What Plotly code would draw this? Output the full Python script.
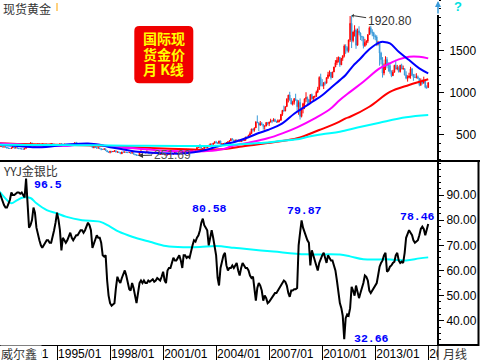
import pandas as pd
import plotly.graph_objects as go

# ---------------- data ----------------
start_month = "1991-10-01"
first_open = 355

# monthly gold (USD/oz): 1991/10 .. 2016/01
gold_close = [
    357.5, 366, 353,
    354, 353, 341, 337, 337, 343, 357, 340, 349, 339, 334, 333,
    330, 327, 338, 355, 377, 378, 401, 372, 355, 369, 370, 391,
    378, 381, 391, 376, 387, 386, 384, 386, 394, 389, 383, 383,
    375, 376, 392, 389, 384, 387, 383, 383, 383, 382, 387, 387,
    405, 400, 396, 392, 391, 382, 385, 386, 379, 379, 371, 369,
    345, 358, 348, 340, 345, 334, 326, 325, 332, 311, 296, 290,
    303, 297, 301, 310, 293, 296, 288, 273, 294, 292, 294, 288,
    287, 288, 280, 286, 268, 261, 255, 255, 299, 299, 292, 290,
    283, 293, 278, 276, 272, 288, 276, 278, 273, 264, 270, 274,
    266, 267, 258, 264, 267, 271, 266, 273, 293, 279, 275, 277,
    282, 297, 302, 308, 327, 318, 304, 313, 324, 317, 319, 347,
    368, 347, 334, 336, 361, 346, 354, 375, 388, 386, 398, 416,
    400, 397, 426, 388, 393, 395, 391, 407, 416, 428, 453, 438,
    422, 435, 428, 436, 417, 437, 430, 433, 473, 470, 495, 513,
    569, 556, 582, 654, 643, 614, 633, 624, 599, 604, 646, 632,
    650, 665, 662, 681, 656, 650, 666, 673, 743, 790, 783, 834,
    923, 972, 916, 865, 887, 928, 913, 833, 884, 718, 814, 870,
    928, 942, 917, 884, 978, 927, 954, 955, 1007, 1040, 1182, 1096,
    1083, 1118, 1113, 1180, 1213, 1244, 1181, 1247, 1307, 1357, 1386, 1421,
    1332, 1410, 1439, 1556, 1536, 1500, 1628, 1826, 1620, 1722, 1747, 1565,
    1737, 1711, 1669, 1664, 1560, 1598, 1614, 1692, 1773, 1719, 1714, 1675,
    1664, 1578, 1597, 1472, 1393, 1234, 1312, 1396, 1327, 1323, 1253, 1202,
    1244, 1326, 1284, 1296, 1250, 1327, 1282, 1287, 1211, 1172, 1182, 1199,
    1283, 1213, 1183, 1182, 1190, 1172, 1095, 1134, 1115, 1142, 1065, 1061,
    1118,
]
gold_high = [
    363, 369, 367,
    361, 361, 354, 345, 341, 345, 362, 358, 350, 349, 341, 338,
    333, 333, 339, 357, 379, 381, 410, 406, 373, 372, 375, 393,
    395, 387, 393, 391, 389, 392, 389, 389, 398, 396, 390, 384,
    384, 378, 393, 396, 390, 390, 389, 389, 386, 386, 389, 390,
    406, 415, 402, 397, 394, 392, 387, 389, 387, 384, 380, 372,
    370, 359, 362, 349, 348, 345, 334, 331, 335, 332, 311, 297,
    307, 304, 303, 314, 310, 297, 297, 289, 297, 302, 299, 296,
    292, 291, 289, 292, 289, 268, 262, 260, 304, 338, 301, 297,
    292, 316, 297, 283, 278, 293, 290, 280, 279, 273, 272, 275,
    274, 268, 269, 265, 273, 272, 271, 280, 295, 293, 283, 283,
    283, 303, 304, 310, 328, 330, 322, 315, 325, 325, 322, 350,
    371, 389, 353, 340, 368, 371, 357, 377, 396, 392, 399, 416,
    427, 412, 427, 428, 395, 401, 409, 411, 418, 430, 454, 456,
    440, 440, 445, 438, 436, 442, 438, 449, 474, 479, 498, 538,
    570, 572, 584, 656, 730, 645, 663, 651, 627, 608, 649, 648,
    654, 690, 673, 696, 691, 668, 683, 677, 745, 795, 846, 838,
    934, 975, 1011, 937, 905, 937, 988, 915, 910, 932, 823, 880,
    930, 1006, 955, 924, 980, 990, 960, 966, 1025, 1070, 1195, 1227,
    1162, 1126, 1136, 1180, 1249, 1265, 1245, 1248, 1308, 1388, 1424, 1432,
    1424, 1411, 1445, 1575, 1577, 1552, 1632, 1913, 1920.8, 1730, 1803, 1764,
    1764, 1791, 1718, 1678, 1668, 1641, 1625, 1693, 1789, 1796, 1755, 1726,
    1694, 1684, 1617, 1604, 1488, 1424, 1348, 1434, 1424, 1361, 1361, 1267,
    1272, 1332, 1392, 1331, 1315, 1332, 1345, 1323, 1290, 1255, 1208, 1238,
    1308, 1294, 1224, 1224, 1232, 1205, 1174, 1170, 1157, 1191, 1142, 1088,
    1128,
]
gold_low = [
    355, 356, 351,
    351, 350, 339, 336, 334, 336, 342, 338, 339, 337, 332, 332,
    327, 326, 326, 336, 352, 366, 377, 368, 350, 354, 367, 369,
    376, 373, 377, 368, 375, 383, 382, 377, 385, 388, 381, 376,
    373, 372, 376, 388, 381, 383, 382, 382, 382, 381, 381, 386,
    386, 398, 394, 390, 389, 381, 380, 384, 378, 378, 371, 367,
    344, 339, 347, 337, 339, 334, 314, 320, 318, 309, 294, 284,
    278, 288, 294, 299, 291, 286, 287, 271, 272, 290, 290, 286,
    285, 283, 277, 278, 267, 257, 252.5, 251.69, 254, 295, 289, 280,
    280, 282, 276, 274, 269, 272, 275, 270, 269, 263, 263, 266,
    262, 255, 256, 255, 263, 265, 264, 264, 270, 277, 272, 272,
    275, 280, 288, 299, 307, 317, 301, 302, 312, 315, 315, 318,
    343, 344, 330, 318, 333, 340, 341, 352, 373, 374, 376, 396,
    399, 392, 393, 386, 372, 384, 384, 388, 399, 412, 426, 432,
    418, 412, 425, 421, 415, 414, 418, 428, 431, 463, 466, 493,
    513, 538, 536, 580, 640, 543, 608, 612, 561, 560, 600, 613,
    603, 647, 637, 660, 651, 640, 644, 648, 666, 724, 774, 780,
    834, 884, 904, 861, 848, 858, 906, 786, 737, 681, 706, 754,
    805, 890, 866, 865, 884, 918, 906, 932, 951, 995, 1033, 1075,
    1075, 1044, 1088, 1112, 1163, 1193, 1156, 1176, 1245, 1307, 1330, 1360,
    1308, 1330, 1380, 1420, 1462, 1478, 1478, 1605, 1532, 1600, 1669, 1523,
    1562, 1686, 1627, 1614, 1527, 1546, 1564, 1590, 1690, 1693, 1672, 1636,
    1625, 1555, 1563, 1322, 1338, 1180, 1208, 1270, 1290, 1251, 1227, 1185,
    1203, 1240, 1277, 1268, 1240, 1241, 1280, 1274, 1206, 1160, 1132, 1170,
    1167, 1197, 1142, 1175, 1170, 1162, 1077, 1080, 1098, 1107, 1052, 1046,
    1061,
]

# moving averages of gold
ma_blue_dates = ["1991-10", "1992-10", "1993-10", "1994-10", "1995-10", "1996-10", "1997-06",
                 "1998-01", "1998-10", "1999-06", "2000-06", "2001-06", "2002-01", "2002-10",
                 "2003-06", "2004-01", "2004-07", "2005-02", "2005-11", "2006-06", "2006-12",
                 "2007-10", "2008-06", "2009-01", "2009-07", "2010-01", "2010-07", "2011-01",
                 "2011-05", "2011-10", "2012-02", "2012-09", "2013-04", "2013-07", "2013-11",
                 "2014-05", "2014-12", "2015-07", "2016-01"]
ma_blue_vals = [380, 365, 350, 362, 385, 395, 380, 350, 325, 300, 285, 276, 275, 290,
                318, 355, 385, 417, 470, 520, 556, 635, 750, 830, 900, 970, 1060, 1150,
                1211, 1320, 1389, 1517, 1600, 1605, 1588, 1488, 1389, 1290, 1231]

ma_magenta_dates = ["1991-10", "1992-10", "1993-10", "1994-10", "1995-10", "1996-06", "1997-01",
                    "1997-10", "1998-07", "1999-07", "2000-07", "2001-07", "2002-07", "2003-07",
                    "2004-06", "2004-12", "2005-11", "2006-12", "2007-10", "2008-08", "2009-08",
                    "2010-06", "2011-01", "2011-08", "2012-05", "2013-04", "2013-11", "2014-05",
                    "2014-12", "2015-07", "2016-01"]
ma_magenta_vals = [395, 385, 370, 365, 370, 390, 385, 370, 352, 335, 318, 305, 300, 305,
                   330, 365, 405, 457, 516, 588, 695, 800, 913, 1010, 1131, 1290, 1350, 1397,
                   1429, 1429, 1409]

ma_red_dates = ["1991-10", "1993-01", "1995-01", "1997-01", "1999-01", "2001-01", "2003-01",
                "2004-07", "2005-05", "2006-12", "2007-06", "2008-08", "2009-11", "2010-11",
                "2011-05", "2011-08", "2012-09", "2013-11", "2014-12", "2016-01"]
ma_red_vals = [400, 390, 380, 372, 355, 335, 322, 330, 357, 400, 417, 457, 556, 640,
               695, 714, 833, 1010, 1092, 1160]

ma_cyan_dates = ["1991-10", "1993-10", "1996-01", "1998-01", "2000-01", "2002-01", "2004-01",
                 "2005-05", "2006-06", "2007-06", "2008-08", "2009-02", "2010-01", "2011-01",
                 "2012-01", "2013-04", "2014-10", "2016-01"]
ma_cyan_vals = [380, 378, 376, 372, 368, 366, 368, 385, 400, 420, 445, 470, 505, 536,
                585, 643, 707, 734]

# gold / silver ratio, monthly 1991/10 .. 2016/01
ratio = [
    91, 89, 87,
    86, 85, 85, 86.5, 88, 91, 90, 90, 90.5, 91, 91, 90.5,
    91, 90, 89, 96.5, 88, 77, 78, 80, 85, 83, 77, 74,
    72, 70, 69, 70, 71, 72, 72, 71, 71, 73, 76, 79,
    83, 80, 76, 68, 73, 72, 71, 72, 74, 75, 73, 72,
    73, 74, 74, 75, 76, 76, 75, 76, 78, 79, 78, 76,
    69, 71, 73, 74, 73, 73, 71, 66, 65.5, 66, 56, 50,
    47, 46, 46.5, 47, 53, 57.5, 56, 55, 57, 59, 60, 58,
    55, 52.5, 52, 55, 53, 50, 47, 51, 55, 56, 55, 56,
    55, 55, 56, 55.5, 56, 56.5, 55.5, 56, 57, 56.5, 56, 57.5,
    59.5, 56, 55, 60, 61, 61, 63, 65, 64, 64, 65, 66,
    64, 61, 66, 66, 65, 65.5, 65, 67, 70, 72, 71.5, 73,
    74, 76, 79, 80.58, 78, 77, 76, 70, 74, 76, 73, 70,
    66, 57, 54, 61, 64, 66, 67, 62, 60, 61, 61, 62,
    61, 62, 63, 60, 58, 61, 63, 62, 61, 61, 60, 58,
    57, 57.5, 52, 48, 53, 55, 54, 52, 48, 50, 49, 47,
    47.5, 48.5, 49.5, 50, 51, 51, 52, 53, 54, 55, 56, 55.5,
    54, 51, 49.5, 52, 52, 52.5, 52.5, 53, 70, 75, 79.87, 77,
    75, 73, 72, 71, 62, 68, 66, 64, 61, 60, 63, 65,
    66, 67, 65, 63, 66, 65, 64, 64, 62, 60, 56, 51,
    47, 45, 42, 32.66, 41, 42.5, 42, 45, 53.5, 52, 50, 54,
    51, 49, 51, 53, 55, 58, 57.5, 56, 52, 51, 52, 53,
    54, 55, 58, 61.5, 63, 64, 66, 67, 59.5, 60, 61.5, 62,
    63, 63.5, 66, 67, 64, 63, 63.5, 63, 67, 73, 74.5, 76,
    75, 74, 72, 71, 71.5, 72, 74, 76.5, 77.4, 76.5, 74, 76.5,
    78.46,
]
ratio_ma_dates = ["1991-10", "1992-03", "1992-06", "1992-10", "1993-02", "1993-07", "1993-11",
                  "1994-06", "1995-01", "1995-07", "1996-06", "1997-06", "1998-01", "1998-07",
                  "1999-04", "2000-04", "2001-03", "2002-03", "2003-02", "2004-01", "2005-01",
                  "2005-05", "2007-04", "2009-02", "2011-01", "2011-08", "2012-05", "2013-11",
                  "2014-10", "2015-07", "2016-01"]
ratio_ma_vals = [91.3, 88, 86.7, 88, 89, 88.8, 86.7, 84, 82.7, 81.4, 80, 79.4, 77.4, 75.4,
                 73.4, 71.4, 69.7, 69.2, 69.3, 69.7, 69, 68.8, 67.5, 66.4, 66.3, 65.6, 64.5,
                 64.4, 64, 64.8, 65.2]

gold_ticks = [500, 1000, 1500]
gold_ticktext = ["\u2007500", "1000", "1500"]
ratio_ticks = [40, 50, 60, 70, 80, 90]
ratio_ticktext = ["40.00", "50.00", "60.00", "70.00", "80.00", "90.00"]

# ---------------- figure ----------------
months = pd.date_range(start_month, periods=len(gold_close), freq="MS")
gold_open = [first_open] + gold_close[:-1]

UP = "#ff0000"
DOWN = "#3a9ad9"

fig = go.Figure()
fig.add_trace(go.Candlestick(
    x=months, open=gold_open, high=gold_high, low=gold_low, close=gold_close,
    xaxis="x", yaxis="y", whiskerwidth=0,
    increasing=dict(line=dict(color=UP, width=1), fillcolor=UP),
    decreasing=dict(line=dict(color=DOWN, width=1), fillcolor=DOWN),
    showlegend=False, hoverinfo="skip"))

for d, v, c in [(ma_red_dates, ma_red_vals, "#ff0000"),
                (ma_magenta_dates, ma_magenta_vals, "#ff00ff"),
                (ma_blue_dates, ma_blue_vals, "#0000ff"),
                (ma_cyan_dates, ma_cyan_vals, "#00ffff")]:
    fig.add_trace(go.Scatter(x=d, y=v, mode="lines", xaxis="x", yaxis="y",
                             line=dict(color=c, width=2, shape="spline", smoothing=1),
                             showlegend=False, hoverinfo="skip"))

fig.add_trace(go.Scatter(x=ratio_ma_dates, y=ratio_ma_vals, mode="lines", xaxis="x2", yaxis="y2",
                         line=dict(color="#00ffff", width=2, shape="spline", smoothing=1),
                         showlegend=False, hoverinfo="skip"))
fig.add_trace(go.Scatter(x=months, y=ratio, mode="lines", xaxis="x2", yaxis="y2",
                         line=dict(color="#000000", width=2),
                         showlegend=False, hoverinfo="skip"))

W, H = 480, 360
ML, MR, MT, MB = 0, 42, 0, 15
PW, PH = W - ML - MR, H - MT - MB      # 438 x 345
SEP = 161                                # px separator between panels
split = (PH - SEP) / PH


def px(x):
    return x / PW


def py(y):
    return 1 - y / PH


xrange_ = ["1991-10-10", "2016-07-21"]
num_font = dict(family="Liberation Sans, Arial", size=12, color="#000000")

fig.update_layout(
    width=W, height=H, autosize=False,
    margin=dict(l=ML, r=MR, t=MT, b=MB, pad=0),
    paper_bgcolor="white", plot_bgcolor="white",
    showlegend=False,
    xaxis=dict(domain=[0, 1], anchor="y", type="date", range=xrange_, matches="x2",
               showticklabels=False, showgrid=False, zeroline=False, showline=False,
               ticks="", rangeslider=dict(visible=False)),
    yaxis=dict(domain=[split, 1], anchor="x", side="right", range=[187, 2104],
               tickmode="array", tickvals=gold_ticks, ticktext=gold_ticktext,
               ticks="outside", ticklen=5, tickwidth=1, tickcolor="black",
               ticklabelstandoff=3,
               minor=dict(ticks="outside", ticklen=2, tickcolor="black", dtick=100, tick0=0),
               showgrid=False, zeroline=False, showline=False, tickfont=num_font),
    xaxis2=dict(domain=[0, 1], anchor="y2", type="date", range=xrange_,
                tick0="1992-01-01", dtick="M36", tickformat="%Y/%m",
                ticks="outside", ticklen=15, tickwidth=1, tickcolor="black",
                ticklabelposition="outside right", ticklabelstandoff=-2,
                showline=True, linecolor="black", linewidth=1,
                showgrid=False, zeroline=False, tickfont=num_font),
    yaxis2=dict(domain=[0, split], anchor="x2", side="right", range=[30.36, 103.52],
                tickmode="array", tickvals=ratio_ticks, ticktext=ratio_ticktext,
                ticks="outside", ticklen=5, tickwidth=1, tickcolor="black",
                minor=dict(ticks="outside", ticklen=2, tickcolor="black", dtick=2.5, tick0=0),
                showgrid=False, zeroline=False, showline=False, tickfont=num_font),
)

# rounded red box path
x0, x1 = px(134.3), px(193.3)
y0, y1 = py(83.3), py(26)
rx, ry = px(5), 5 / PH
box_path = (f"M {x0+rx},{y1} L {x1-rx},{y1} Q {x1},{y1} {x1},{y1-ry} "
            f"L {x1},{y0+ry} Q {x1},{y0} {x1-rx},{y0} L {x0+rx},{y0} "
            f"Q {x0},{y0} {x0},{y0+ry} L {x0},{y1-ry} Q {x0},{y1} {x0+rx},{y1} Z")

shapes = [
    dict(type="path", xref="paper", yref="paper", path=box_path,
         fillcolor="#f00000", line=dict(width=0)),
    # mask for the tick label beyond the right axis
    dict(type="rect", xref="paper", yref="paper", x0=1, x1=px(480), y0=py(346), y1=py(361),
         fillcolor="white", line=dict(width=0)),
    # right axis of the gold panel
    dict(type="line", xref="paper", yref="paper", x0=1, x1=1, y0=py(15), y1=split,
         line=dict(color="black", width=2)),
    # panel separator
    dict(type="line", xref="paper", yref="paper", x0=0, x1=px(480), y0=split, y1=split,
         line=dict(color="black", width=2)),
    # box around ratio axis
    dict(type="rect", xref="paper", yref="paper", x0=1, x1=px(478.5), y0=0, y1=split,
         line=dict(color="black", width=2)),
    dict(type="line", xref="paper", yref="paper", x0=1, x1=1, y0=0, y1=py(361),
         line=dict(color="black", width=1)),
    # small orange marker by the title
    dict(type="line", xref="paper", yref="paper", x0=px(57), x1=px(57), y0=py(3), y1=py(11),
         line=dict(color="#ffa500", width=1)),
]
fig.update_layout(shapes=shapes)

cjk = "Noto Sans CJK SC"
mono_b = dict(family="Liberation Mono, DejaVu Sans Mono", size=11.5, color="#0000ff")
ann = [
    dict(text="现货黄金", xref="paper", yref="paper", x=px(1), y=py(8), xanchor="left",
         yanchor="middle", showarrow=False, font=dict(family=cjk, size=12, color="#333333")),
    dict(text="YYJ金银比", xref="paper", yref="paper", x=px(1), y=py(170), xanchor="left",
         yanchor="middle", showarrow=False, font=dict(family=cjk, size=12, color="#333333")),
    dict(text="<b>国际现</b>", xref="paper", yref="paper", x=px(163.8), y=py(38.5),
         xanchor="center", yanchor="middle", showarrow=False,
         font=dict(family=cjk, size=14, color="#ffff00")),
    dict(text="<b>货金价</b>", xref="paper", yref="paper", x=px(163.8), y=py(53.5),
         xanchor="center", yanchor="middle", showarrow=False,
         font=dict(family=cjk, size=14, color="#ffff00")),
    dict(text="<b>月 K线</b>", xref="paper", yref="paper", x=px(163.8), y=py(68.5),
         xanchor="center", yanchor="middle", showarrow=False,
         font=dict(family=cjk, size=14, color="#ffff00")),
    dict(text="1920.80", xref="x", yref="y", x="2011-09-01", y=1920.8, ax=38, ay=6,
         showarrow=True, arrowhead=1, arrowsize=0.7, arrowwidth=1, arrowcolor="#333333",
         font=dict(family="Liberation Sans, Arial", size=12, color="#333333")),
    dict(text="251.69", xref="x", yref="y", x="1999-08-01", y=251.69, ax=34, ay=-1,
         showarrow=True, arrowhead=2, arrowsize=1, arrowwidth=1, arrowcolor="#333333",
         font=dict(family="Liberation Sans, Arial", size=12, color="#555555")),
    dict(text="<b>?</b>", xref="paper", yref="paper", x=px(458.5), y=py(6), xanchor="center",
         yanchor="middle", showarrow=False,
         font=dict(family="Liberation Sans, Arial", size=13, color="#00e0e0")),
    dict(text="", xref="paper", yref="paper", x=1, y=1, ax=0, ay=15, showarrow=True,
         arrowhead=2, arrowsize=0.8, arrowwidth=1.5, arrowcolor=DOWN),
    dict(text="威尔鑫", xref="paper", yref="paper", x=0, y=0, xanchor="left", yanchor="top",
         width=40, height=15, align="left", valign="middle", bgcolor="white", borderpad=0,
         showarrow=False, font=dict(family=cjk, size=12, color="#333333")),
    dict(text="月线", xref="paper", yref="paper", x=px(441), y=py(353), xanchor="left",
         yanchor="middle", showarrow=False, font=dict(family=cjk, size=12, color="#333333")),
    # ratio extremes
    dict(text="<b>96.5</b>", xref="x2", yref="y2", x="1993-04-01", y=96.5, xanchor="left",
         yanchor="middle", xshift=6, yshift=-5.4, showarrow=False, font=mono_b),
    dict(text="<b>80.58</b>", xref="x2", yref="y2", x="2003-04-01", y=80.58, xanchor="center",
         yanchor="middle", xshift=7, yshift=9.7, showarrow=False, font=mono_b),
    dict(text="<b>79.87</b>", xref="x2", yref="y2", x="2008-11-01", y=79.87, xanchor="center",
         yanchor="middle", xshift=2.5, yshift=9.5, showarrow=False, font=mono_b),
    dict(text="<b>32.66</b>", xref="x2", yref="y2", x="2011-04-01", y=32.66, xanchor="left",
         yanchor="middle", xshift=8, yshift=0.7, showarrow=False, font=mono_b),
    dict(text="<b>78.46</b>", xref="x2", yref="y2", x="2016-01-01", y=78.46, xanchor="center",
         yanchor="middle", xshift=-11, yshift=8, showarrow=False, font=mono_b),
]
fig.update_layout(annotations=ann)

fig.write_html("out.html", config={"displayModeBar": False},
               post_script="document.body.style.margin='0px';")
